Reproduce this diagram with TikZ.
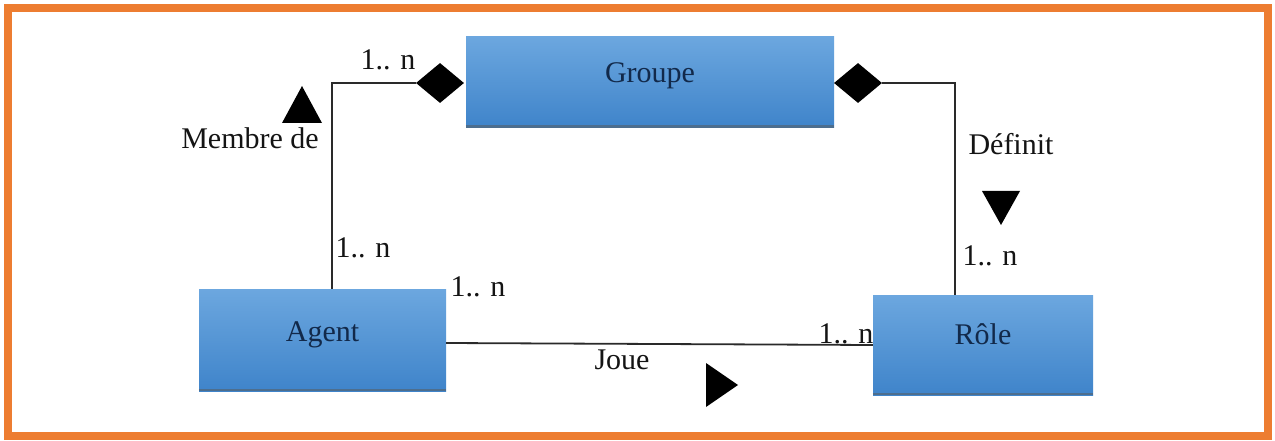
\documentclass[tikz,border=0pt]{standalone}
\usepackage{fontspec}
\setmainfont{Liberation Serif}
\usetikzlibrary{shapes.geometric}
\definecolor{frameorange}{HTML}{ED7D31}
\definecolor{boxtop}{HTML}{6CA7DF}
\definecolor{boxbot}{HTML}{3F84CA}
\definecolor{boxedge}{HTML}{4D6E8E}
\definecolor{boxtext}{HTML}{12294A}
\definecolor{linegray}{HTML}{2A2A2A}
\tikzset{
  classbox/.style={rectangle, inner sep=0pt, top color=boxtop, bottom color=boxbot,
    draw=none, text=boxtext, font=\fontsize{30}{33}\selectfont},
  diam/.style={diamond, fill=black, draw=none, inner sep=0pt,
    minimum width=48pt, minimum height=40pt},
  lbl/.style={inner sep=0pt, text=black!92, font=\fontsize{30}{33}\selectfont,
    text height=2.1ex, text depth=0.3ex},
  link/.style={draw=linegray, line width=1.8pt},
  dirmark/.style={fill=black}
}
\begin{document}
\begin{tikzpicture}[x=1pt,y=-1pt]
  \useasboundingbox (0,0) rectangle (1275,441);
  \fill[white] (0,0) rectangle (1275,441);
  % outer frame
  \draw[frameorange, line width=8pt] (8,8) rectangle (1268,436);

  % classes
  \node[classbox, minimum width=368pt, minimum height=91pt] (groupe) at (650,82) {\raisebox{19pt}{Groupe}};
  \node[classbox, minimum width=247pt, minimum height=102pt] (agent) at (322.5,340) {\raisebox{16pt}{Agent}};
  \node[classbox, minimum width=220pt, minimum height=100pt] (role) at (983,345) {\raisebox{21pt}{Rôle}};
  % bottom shadow edges
  \foreach \b in {groupe, agent, role}
    \draw[boxedge, line width=2.5pt] ([yshift=1pt]\b.south west) -- ([yshift=1pt]\b.south east);

  % aggregation diamonds on Groupe
  \node[diam] (dl) at (440,83) {};
  \node[diam] (dr) at (858,83) {};

  % connector end points on the class boxes
  \coordinate (ml) at (332,289);
  \coordinate (mr) at (955,295);

  % connectors
  \draw[link] (dl.west) -| (ml);
  \draw[link] (dr.east) -| (mr);
  \draw[link] ([yshift=-3pt]agent.east) -- (role.west);

  % reading direction marks
  \fill[dirmark] (282,123) -- (322,123) -- (302,86) -- cycle;
  \fill[dirmark] (982,191) -- (1020,191) -- (1001,225) -- cycle;
  \fill[dirmark] (706,363) -- (706,407) -- (738,385) -- cycle;

  % labels
  \node[lbl] (m1) at (388,65) {1.. n};
  \node[lbl] (membre) at (250,144) {Membre de};
  \node[lbl] (definit) at (1011,150) {Définit};
  \node[lbl] (m2) at (990,261) {1.. n};
  \node[lbl] (m3) at (363,253) {1.. n};
  \node[lbl] (m4) at (478,292) {1.. n};
  \node[lbl] (m5) at (846,339) {1.. n};
  \node[lbl] (joue) at (622,365) {Joue};
\end{tikzpicture}
\end{document}
